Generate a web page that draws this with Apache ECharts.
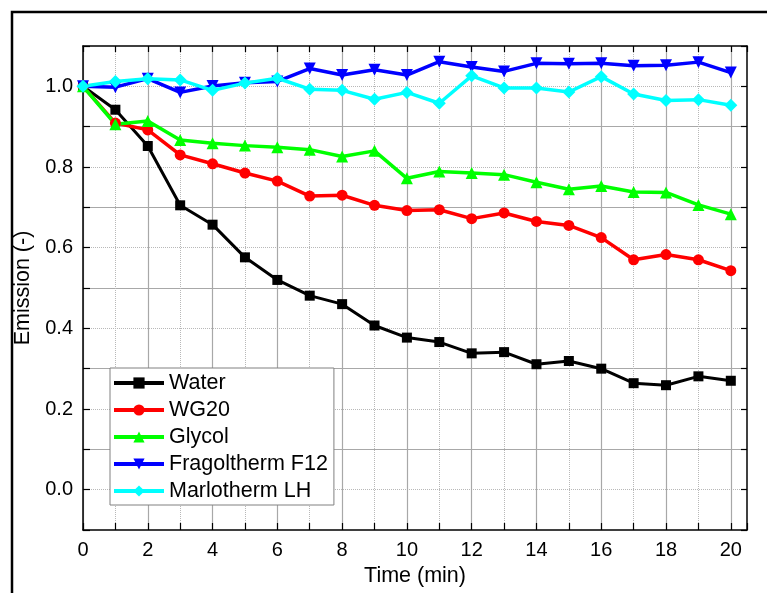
<!DOCTYPE html>
<html>
<head>
<meta charset="utf-8">
<script src="https://cdn.jsdelivr.net/npm/echarts@6.0.0/dist/echarts.min.js"></script>
<style>
  html, body { margin: 0; padding: 0; background: #fff; }
  #chart { width: 767px; height: 593px; }
</style>
</head>
<body>
<div id="chart"></div>
<script>
// time in minutes
var timeMin = [0, 1, 2, 3, 4, 5, 6, 7, 8, 9, 10, 11, 12, 13, 14, 15, 16, 17, 18, 19, 20];

// emission values
var water = [1.0, 0.942, 0.852, 0.705, 0.657, 0.576, 0.520, 0.481, 0.460, 0.407, 0.377,
  0.366, 0.338, 0.341, 0.311, 0.319, 0.300, 0.264, 0.259, 0.281, 0.270];
var wg20 = [1.0, 0.909, 0.892, 0.830, 0.808, 0.785, 0.765, 0.728, 0.730, 0.705, 0.692,
  0.694, 0.672, 0.686, 0.665, 0.655, 0.625, 0.570, 0.583, 0.570, 0.543];
var glycol = [1.0, 0.906, 0.914, 0.867, 0.859, 0.853, 0.849, 0.843, 0.826, 0.840, 0.772,
  0.789, 0.785, 0.781, 0.762, 0.745, 0.753, 0.738, 0.737, 0.706, 0.683];
var fragoltherm = [1.0, 0.998, 1.019, 0.985, 1.001, 1.009, 1.012, 1.044, 1.028, 1.041, 1.028,
  1.061, 1.048, 1.037, 1.057, 1.056, 1.057, 1.051, 1.052, 1.060, 1.034];
var marlotherm = [1.0, 1.012, 1.019, 1.016, 0.990, 1.008, 1.020, 0.993, 0.990, 0.968, 0.985,
  0.958, 1.026, 0.996, 0.996, 0.986, 1.024, 0.981, 0.965, 0.967, 0.953];

var seriesNames = ['Water', 'WG20', 'Glycol', 'Fragoltherm F12', 'Marlotherm LH'];
var seriesColors = ['#000000', '#ff0000', '#00ff00', '#0000ff', '#00ffff'];

var FONT = '"Liberation Sans", Arial, sans-serif';
var clear = 'rgba(0,0,0,0)';

function pairs(ys) {
  return timeMin.map(function (t, i) { return [t, ys[i]]; });
}

function makeLine(name, idx, ys, symbol, size, rotate) {
  return {
    name: name,
    type: 'line',
    data: pairs(ys),
    symbol: symbol,
    symbolSize: size,
    symbolRotate: rotate || 0,
    showAllSymbol: true,
    lineStyle: { width: idx === 0 ? 3 : 3.5, color: seriesColors[idx] },
    itemStyle: { color: seriesColors[idx] },
    animation: false
  };
}

var chart = echarts.init(document.getElementById('chart'));
chart.setOption({
  backgroundColor: '#fff',
  animation: false,
  textStyle: { fontFamily: FONT },
  grid: { left: 83, top: 46, width: 664, height: 484 },
  graphic: [{
    type: 'rect',
    shape: { x: 12, y: 12, width: 780, height: 620 },
    style: { fill: null, stroke: '#000', lineWidth: 2.5 },
    silent: true
  }],
  legend: {
    orient: 'vertical',
    left: 110,
    top: 368,
    itemWidth: 50,
    itemHeight: 14,
    itemGap: 5,
    padding: [4, 6, 3, 2],
    backgroundColor: '#fff',
    borderColor: '#808080',
    borderWidth: 1,
    borderRadius: 0,
    lineStyle: { width: 4 },
    textStyle: { fontSize: 21.5, color: '#000', fontFamily: FONT },
    data: seriesNames
  },
  xAxis: [{
    type: 'value',
    position: 'bottom',
    min: 0, max: 20.5, interval: 1,
    name: 'Time (min)',
    nameLocation: 'middle',
    nameGap: 32,
    nameTextStyle: { fontSize: 21.5, color: '#000' },
    axisLine: { onZero: false, lineStyle: { color: '#000', width: 1.5 } },
    axisTick: { inside: true, length: 7, lineStyle: { color: '#000', width: 1.2 } },
    axisLabel: {
      fontSize: 20, color: '#000', margin: 10,
      formatter: function (v) { return (Number.isInteger(v) && v % 2 === 0) ? String(v) : ''; }
    },
    splitLine: { show: true, showMaxLine: false, lineStyle: { color: ['#a8a8a8', clear], width: 1.2 } }
  }, {
    type: 'value',
    position: 'top',
    min: 0, max: 20.5, interval: 1,
    axisLine: { onZero: false, lineStyle: { color: '#000', width: 1.5 } },
    axisTick: { inside: true, length: 6, lineStyle: { color: '#000', width: 1.2 } },
    axisLabel: { show: false },
    splitLine: { show: true, showMaxLine: false, lineStyle: { color: [clear, '#b8b8b8'], type: 'dotted', width: 1 } }
  }],
  yAxis: [{
    type: 'value',
    position: 'left',
    min: -0.1, max: 1.1, interval: 0.1,
    name: 'Emission (-)',
    nameLocation: 'middle',
    nameGap: 43,
    nameTextStyle: { fontSize: 21.5, color: '#000' },
    axisLine: { show: true, onZero: false, lineStyle: { color: '#000', width: 1.5 } },
    axisTick: { show: true, inside: true, length: 7, lineStyle: { color: '#000', width: 1.2 } },
    axisLabel: {
      fontSize: 20, color: '#000', margin: 10,
      formatter: function (v) {
        var k = Math.round(v * 10);
        return (k % 2 === 0 && k >= 0 && k <= 10) ? (k / 10).toFixed(1) : '';
      }
    },
    splitLine: { show: true, showMinLine: false, showMaxLine: false, lineStyle: { color: [clear, '#a8a8a8'], width: 1.2 } }
  }, {
    type: 'value',
    position: 'right',
    min: -0.1, max: 1.1, interval: 0.1,
    axisLine: { show: true, onZero: false, lineStyle: { color: '#000', width: 1.5 } },
    axisTick: { show: true, inside: true, length: 6, lineStyle: { color: '#000', width: 1.2 } },
    axisLabel: { show: false },
    splitLine: { show: true, showMinLine: false, showMaxLine: false, lineStyle: { color: ['#b8b8b8', clear], type: 'dotted', width: 1 } }
  }],
  series: [
    makeLine(seriesNames[0], 0, water, 'rect', 10),
    makeLine(seriesNames[1], 1, wg20, 'circle', 11),
    makeLine(seriesNames[2], 2, glycol, 'triangle', 12),
    makeLine(seriesNames[3], 3, fragoltherm, 'triangle', 12, 180),
    makeLine(seriesNames[4], 4, marlotherm, 'diamond', 13)
  ]
});
</script>
</body>
</html>
